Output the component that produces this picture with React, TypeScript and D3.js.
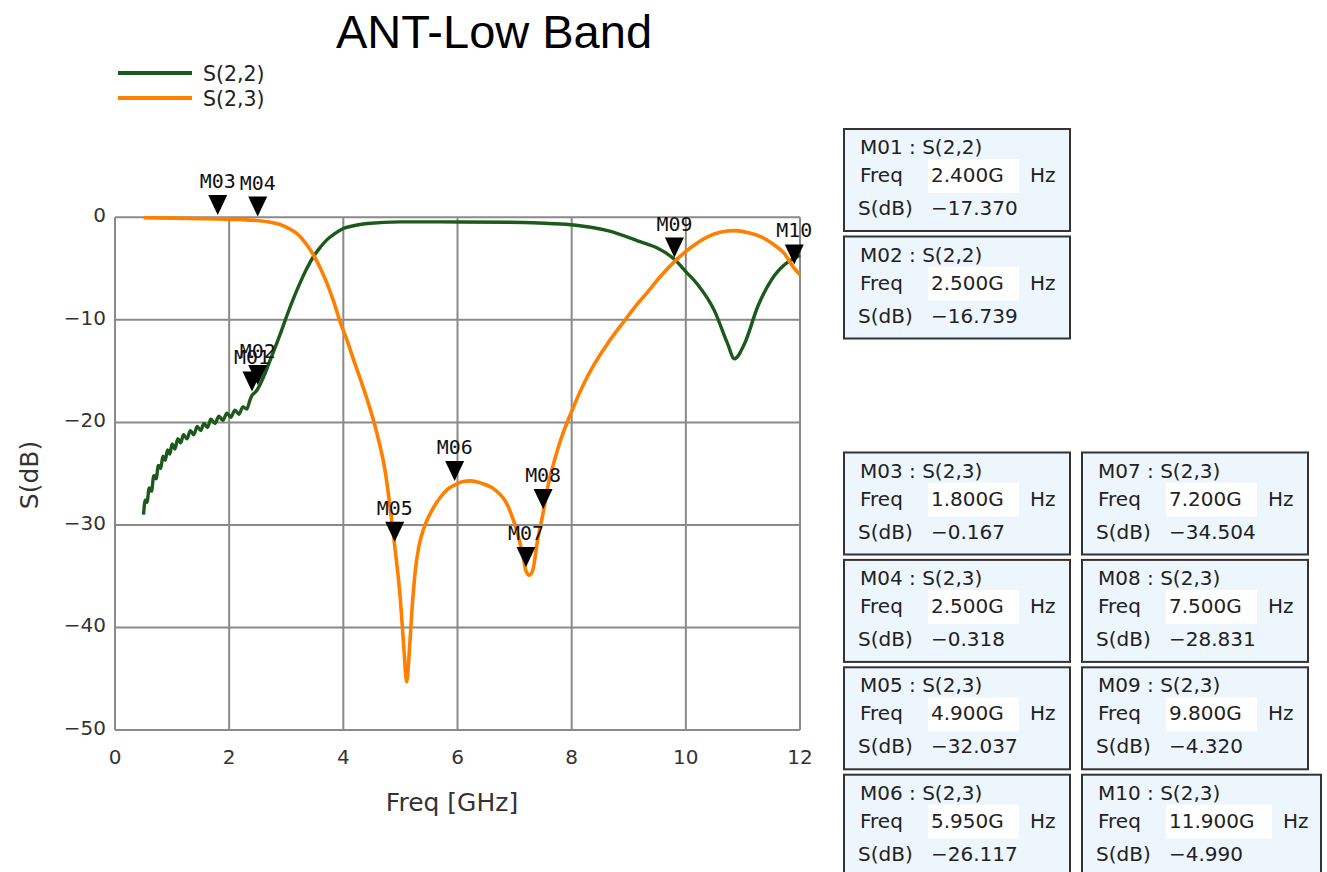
import React from "react";
import * as d3 from "d3";

// ---------- data ----------
const titleText = "ANT-Low Band";
const seriesNames = ["S(2,2)", "S(2,3)"];
const seriesColors = ["#1c5a1c", "#ff8000"];

const s22Freq = [
  0.5, 0.53, 0.56, 0.6, 0.64, 0.68, 0.72, 0.76, 0.8, 0.84, 0.88, 0.92, 0.96, 1.0, 1.05, 1.1, 1.15, 1.2, 1.26,
  1.32, 1.38, 1.44, 1.5, 1.56, 1.62, 1.68, 1.75, 1.82, 1.89, 1.96, 2.03, 2.1, 2.17, 2.24, 2.31, 2.36, 2.4,
  2.45, 2.5, 2.6, 2.72, 2.84, 2.92, 3.01, 3.12, 3.25, 3.36, 3.48, 3.6, 3.71, 3.85, 4.0, 4.2, 4.42, 5.0, 5.7,
  7.16, 7.6, 8.04, 8.63, 9.21, 9.5, 9.8, 10.0, 10.2, 10.5, 10.73, 10.85, 11.03, 11.26, 11.5, 11.78, 11.9, 12.0,
];
const s22Db = [
  -29.0, -27.6, -27.8, -26.4, -26.7, -25.2, -25.5, -24.2, -24.5, -23.3, -23.7, -22.7, -23.1, -22.1, -22.6,
  -21.6, -22.0, -21.2, -21.6, -20.8, -21.2, -20.4, -20.8, -20.1, -20.5, -19.7, -20.1, -19.4, -19.8, -19.1,
  -19.5, -18.8, -19.2, -18.5, -18.7, -17.9, -17.37, -17.1, -16.74, -15.6, -13.9, -12.2, -11.0, -9.6, -8.0,
  -6.3, -5.0, -3.8, -2.9, -2.2, -1.6, -1.1, -0.8, -0.6, -0.45, -0.45, -0.5, -0.6, -0.75, -1.3, -2.4, -3.0,
  -4.1, -5.3, -6.5, -9.1, -12.3, -13.8, -12.3, -8.7, -6.1, -4.4, -4.0, -3.7,
];

const s23Freq = [
  0.5, 1.0, 1.8, 2.2, 2.5, 2.7, 2.89, 3.05, 3.19, 3.35, 3.48, 3.6, 3.71, 3.83, 3.95, 4.06, 4.18, 4.3, 4.42,
  4.59, 4.74, 4.82, 4.9, 5.0, 5.06, 5.11, 5.16, 5.2, 5.26, 5.32, 5.4, 5.47, 5.58, 5.7, 5.83, 5.95, 6.08, 6.23,
  6.4, 6.64, 6.87, 7.05, 7.16, 7.2, 7.26, 7.32, 7.4, 7.5, 7.6, 7.7, 7.82, 7.98, 8.27, 8.4, 8.63, 8.8, 8.95,
  9.1, 9.33, 9.55, 9.8, 10.1, 10.38, 10.6, 10.85, 11.1, 11.32, 11.5, 11.72, 11.9, 12.0,
];
const s23Db = [
  -0.05, -0.08, -0.167, -0.22, -0.318, -0.45, -0.7, -1.1, -1.6, -2.6, -3.7, -5.0, -6.4, -8.2, -10.3, -11.9,
  -13.9, -15.8, -17.8, -21.1, -25.0, -28.3, -32.04, -37.3, -42.0, -45.3, -42.0, -38.5, -34.5, -32.2, -30.5,
  -29.5, -28.3, -27.3, -26.5, -26.12, -25.8, -25.7, -25.9, -26.5, -28.0, -30.8, -33.4, -34.5, -34.9, -34.4,
  -31.6, -28.83, -25.8, -23.7, -21.5, -19.2, -15.6, -14.3, -12.3, -11.0, -9.9, -8.8, -7.3, -5.8, -4.32, -2.9,
  -1.9, -1.45, -1.3, -1.5, -1.9, -2.5, -3.5, -4.99, -5.6,
];

const markerNames = ["M01", "M02", "M03", "M04", "M05", "M06", "M07", "M08", "M09", "M10"];
const markerSeries = ["S(2,2)", "S(2,2)", "S(2,3)", "S(2,3)", "S(2,3)", "S(2,3)", "S(2,3)", "S(2,3)", "S(2,3)", "S(2,3)"];
const markerFreq = [2.4, 2.5, 1.8, 2.5, 4.9, 5.95, 7.2, 7.5, 9.8, 11.9];
const markerDb = [-17.37, -16.739, -0.167, -0.318, -32.037, -26.117, -34.504, -28.831, -4.32, -4.99];

const xTicks = [0, 2, 4, 6, 8, 10, 12];
const yTicks = [0, -10, -20, -30, -40, -50];

// ---------- layout ----------
const W = 1327;
const H = 872;
const plot = { left: 115, right: 800, top: 217.3, bottom: 730 };

export default function App() {
  const x = d3.scaleLinear().domain([0, 12]).range([plot.left, plot.right]);
  const y = d3.scaleLinear().domain([0, -50]).range([plot.top, plot.bottom]);
  const line = d3
    .line<[number, number]>()
    .x((d) => x(d[0]))
    .y((d) => y(d[1]))
    .curve(d3.curveMonotoneX);

  const s22: [number, number][] = s22Freq.map((f, i) => [f, s22Db[i]]);
  const s23: [number, number][] = s23Freq.map((f, i) => [f, s23Db[i]]);
  const fmtDb = d3.format(".3f");
  const fmtF = d3.format(".3f");
  const tickFmt = d3.format("d");

  const boxPos = (i: number) => {
    if (i === 0) return { bx: 844, by: 129, w: 226 };
    if (i === 1) return { bx: 844, by: 236.5, w: 226 };
    if (i <= 5) return { bx: 844, by: 452.5 + (i - 2) * 107.4, w: 226 };
    return { bx: 1082, by: 452.5 + (i - 6) * 107.4, w: i === 9 ? 239 : 226 };
  };

  const boxFont = "DejaVu Sans, sans-serif";

  return (
    <svg width={W} height={H} style={{ position: "absolute", left: 0, top: 0, background: "#fff" }}>
      {/* title */}
      <text x={494} y={48} textAnchor="middle" fontFamily="Liberation Sans, Arial, sans-serif" fontSize={47} fill="#000">
        {titleText}
      </text>

      {/* legend */}
      {seriesNames.map((n, i) => (
        <g key={n}>
          <line x1={118} x2={192} y1={73 + i * 25} y2={73 + i * 25} stroke={seriesColors[i]} strokeWidth={4} />
          <text x={203} y={80.5 + i * 25} fontFamily="DejaVu Sans, sans-serif" fontSize={20.5} fill="#222">
            {n}
          </text>
        </g>
      ))}

      {/* grid */}
      {xTicks.map((t) => (
        <line key={"gx" + t} x1={x(t)} x2={x(t)} y1={plot.top} y2={plot.bottom} stroke="#8a8a8a" strokeWidth={2} />
      ))}
      {yTicks.map((t) => (
        <line key={"gy" + t} x1={plot.left} x2={plot.right} y1={y(t)} y2={y(t)} stroke="#8a8a8a" strokeWidth={2} />
      ))}

      {/* tick labels */}
      {xTicks.map((t) => (
        <text key={"tx" + t} x={x(t)} y={764} textAnchor="middle" fontFamily="DejaVu Sans, sans-serif" fontSize={20} fill="#333">
          {tickFmt(t)}
        </text>
      ))}
      {yTicks.map((t) => (
        <text key={"ty" + t} x={106} y={y(t) + 5} textAnchor="end" fontFamily="DejaVu Sans, sans-serif" fontSize={20} fill="#333">
          {tickFmt(t)}
        </text>
      ))}

      {/* axis titles */}
      <text x={452} y={811} textAnchor="middle" fontFamily="DejaVu Sans, sans-serif" fontSize={25} fill="#333">
        Freq [GHz]
      </text>
      <text
        transform={`translate(38,475) rotate(-90)`}
        textAnchor="middle"
        fontFamily="DejaVu Sans, sans-serif"
        fontSize={25}
        fill="#333"
      >
        S(dB)
      </text>

      {/* curves */}
      <path d={line(s22) || ""} fill="none" stroke={seriesColors[0]} strokeWidth={3.4} strokeLinejoin="round" />
      <path d={line(s23) || ""} fill="none" stroke={seriesColors[1]} strokeWidth={3.6} strokeLinejoin="round" />

      {/* markers */}
      {markerNames.map((m, i) => {
        const px = x(markerFreq[i]);
        const py = y(markerDb[i]);
        const tip = py - 4;
        const top = py - 24;
        return (
          <g key={m}>
            <path d={`M${px - 9.5},${top} L${px + 9.5},${top} L${px},${tip} Z`} fill="#000" />
            <text
              x={px}
              y={py - 31}
              textAnchor="middle"
              fontFamily="DejaVu Sans Mono, monospace"
              fontSize={20}
              fill="#111"
              textLength={36}
              lengthAdjust="spacingAndGlyphs"
            >
              {m}
            </text>
          </g>
        );
      })}

      {/* marker boxes */}
      {markerNames.map((m, i) => {
        const { bx, by, w } = boxPos(i);
        const valW = i === 9 ? 106 : 91;
        return (
          <g key={"box" + m}>
            <rect x={bx} y={by} width={w} height={102} fill="#edf5fd" stroke="#333" strokeWidth={2} />
            <rect x={bx + 84} y={by + 30} width={valW} height={34} fill="#fff" />
            <text x={bx + 16} y={by + 25} fontFamily={boxFont} fontSize={20} fill="#222">
              {`${m} : ${markerSeries[i]}`}
            </text>
            <text x={bx + 16} y={by + 53} fontFamily={boxFont} fontSize={20} fill="#222">
              Freq
            </text>
            <text x={bx + 87} y={by + 53} fontFamily={boxFont} fontSize={20} fill="#222">
              {`${fmtF(markerFreq[i])}G`}
            </text>
            <text x={bx + valW + 95} y={by + 53} fontFamily={boxFont} fontSize={20} fill="#222">
              Hz
            </text>
            <text x={bx + 14} y={by + 86} fontFamily={boxFont} fontSize={20} fill="#222">
              S(dB)
            </text>
            <text x={bx + 87} y={by + 86} fontFamily={boxFont} fontSize={20} fill="#222">
              {fmtDb(markerDb[i])}
            </text>
          </g>
        );
      })}
    </svg>
  );
}
